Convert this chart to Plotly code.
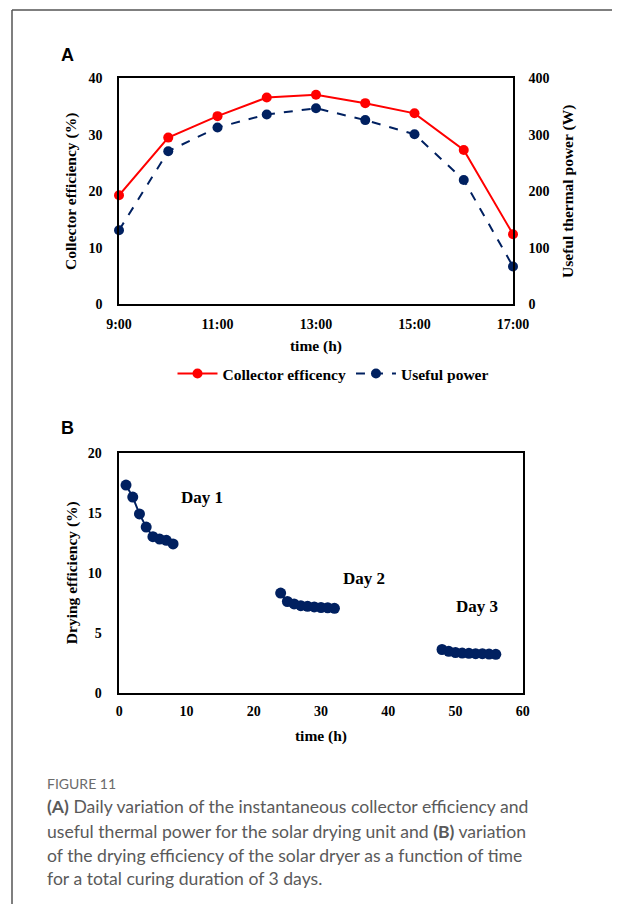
import plotly.graph_objects as go

# ---------------- data ----------------
hours_a = [9, 10, 11, 12, 13, 14, 15, 16, 17]
hour_tickvals = [9, 11, 13, 15, 17]
hour_ticktext = ["9:00", "11:00", "13:00", "15:00", "17:00"]
collector_eff = [19.3, 29.5, 33.3, 36.6, 37.1, 35.6, 33.8, 27.3, 12.4]
useful_power = [131, 271, 313, 336, 347, 326, 301, 220, 67]

day1_t = [1, 2, 3, 4, 5, 6, 7, 8]
day1_eff = [17.3, 16.3, 14.9, 13.8, 13.0, 12.8, 12.7, 12.4]
day2_t = [24, 25, 26, 27, 28, 29, 30, 31, 32]
day2_eff = [8.3, 7.6, 7.4, 7.25, 7.2, 7.15, 7.1, 7.08, 7.03]
day3_t = [48, 49, 50, 51, 52, 53, 54, 55, 56]
day3_eff = [3.6, 3.45, 3.35, 3.3, 3.28, 3.25, 3.25, 3.22, 3.2]
day_labels = ["Day 1", "Day 2", "Day 3"]
day_label_x = [12.3, 36.4, 53.2]
day_label_y = [16.3, 9.55, 7.2]

# page body has an 8px margin: the figure is placed at (8, 8)
OFF = 8
W, H = 604, 896
RED = "#FF0000"
NAVY = "#002060"
SERIF = "Liberation Serif"

def px(x):
    return (x - OFF) / W

def py(y):
    return 1 - (y - OFF) / H

fig = go.Figure()

# Panel A
fig.add_trace(go.Scatter(
    x=hours_a, y=collector_eff, name="<b>Collector efficency</b>",
    mode="lines+markers", line=dict(color=RED, width=2),
    marker=dict(color=RED, size=10), xaxis="x", yaxis="y", cliponaxis=False))
fig.add_trace(go.Scatter(
    x=hours_a, y=useful_power, name="<b>Useful power</b>",
    mode="lines+markers", line=dict(color=NAVY, width=2, dash="dash"),
    marker=dict(color=NAVY, size=10), xaxis="x", yaxis="y2", cliponaxis=False))

# Panel B
x_b = day1_t + [None] + day2_t + [None] + day3_t
y_b = day1_eff + [None] + day2_eff + [None] + day3_eff
fig.add_trace(go.Scatter(
    x=x_b, y=y_b, mode="lines+markers", showlegend=False,
    line=dict(color=NAVY, width=2), marker=dict(color=NAVY, size=11),
    connectgaps=False, xaxis="x2", yaxis="y3", cliponaxis=False))

tickfont = dict(family=SERIF, size=14, color="black")
titlefont = dict(family=SERIF, size=15.5, color="black")
axis_common = dict(showgrid=False, zeroline=False, showline=True,
                   linecolor="black", linewidth=1.5, ticks="",
                   tickfont=tickfont, automargin=False,
                   tickprefix="<b>", ticksuffix="</b>")

fig.update_layout(
    width=W, height=H,
    margin=dict(l=0, r=0, t=0, b=0, autoexpand=False),
    paper_bgcolor="white", plot_bgcolor="white",
    font=dict(family=SERIF, color="black"),
    xaxis=dict(domain=[px(119), px(513)], range=[9, 17],
               tickvals=hour_tickvals, ticktext=["<b>" + t + "</b>" for t in hour_ticktext],
               mirror=True, anchor="y", ticklabelstandoff=6,
               title=dict(text="<b>time (h)</b>", font=titlefont, standoff=9),
               **axis_common),
    yaxis=dict(domain=[py(304.3), py(78.3)], range=[0, 40], dtick=10,
               anchor="x", mirror=True, ticklabelstandoff=12,
               title=dict(text="<b>Collector efficiency (%)</b>", font=titlefont, standoff=8),
               **axis_common),
    yaxis2=dict(overlaying="y", side="right", range=[0, 400], dtick=100,
                anchor="x", ticklabelstandoff=11,
                title=dict(text="<b>Useful thermal power (W)</b>", font=titlefont, standoff=14),
                **axis_common),
    xaxis2=dict(domain=[px(119.3), px(522.7)], range=[0, 60], dtick=10,
                anchor="y3", mirror=True, ticklabelstandoff=5,
                title=dict(text="<b>time (h)</b>", font=titlefont, standoff=12),
                **axis_common),
    yaxis3=dict(domain=[py(692.7), py(452.7)], range=[0, 20], dtick=5,
                anchor="x2", mirror=True, ticklabelstandoff=13,
                title=dict(text="<b>Drying efficiency (%)</b>", font=titlefont, standoff=6),
                **axis_common),
    legend=dict(orientation="h", x=px(333), xanchor="center", y=py(374), yanchor="middle",
                font=dict(family=SERIF, size=15.5, color="black"),
                bgcolor="rgba(0,0,0,0)", itemwidth=40, tracegroupgap=0),
    showlegend=True,
)

annotations = []
for t, x, y in zip(day_labels, day_label_x, day_label_y):
    annotations.append(dict(text="<b>" + t + "</b>", x=x, y=y, xref="x2", yref="y3",
                            xanchor="center", yanchor="middle",
                            showarrow=False, font=dict(family=SERIF, size=17, color="black")))
# panel letters
annotations.append(dict(text="<b>A</b>", x=px(67), y=py(55), xref="paper", yref="paper",
                        xanchor="center", yanchor="middle",
                        showarrow=False, font=dict(family="Liberation Sans", size=18, color="black")))
annotations.append(dict(text="<b>B</b>", x=px(67), y=py(428), xref="paper", yref="paper",
                        xanchor="center", yanchor="middle",
                        showarrow=False, font=dict(family="Liberation Sans", size=18, color="black")))
# caption
CAP = "Lato"
annotations.append(dict(text="FIGURE 11", x=px(45), y=py(783), xref="paper", yref="paper",
                        xanchor="left", yanchor="middle", showarrow=False,
                        font=dict(family=CAP, size=14, color="#6b6b6b")))
cap_lines = [
    "<b>(A)</b> Daily variation of the instantaneous collector efficiency and",
    "useful thermal power for the solar drying unit and <b>(B)</b> variation",
    "of the drying efficiency of the solar dryer as a function of time",
    "for a total curing duration of 3 days.",
]
cap_y = [806, 831, 855, 878]
for t, yy in zip(cap_lines, cap_y):
    annotations.append(dict(text=t, x=px(45), y=py(yy), xref="paper", yref="paper",
                            xanchor="left", yanchor="middle", showarrow=False,
                            font=dict(family=CAP, size=17.6, color="#5a5a5a")))
fig.update_layout(annotations=annotations)

# outer frame lines
fig.update_layout(shapes=[
    dict(type="line", xref="paper", yref="paper", x0=px(12), x1=1, y0=py(10), y1=py(10),
         line=dict(color="#555555", width=1.5)),
    dict(type="line", xref="paper", yref="paper", x0=px(12), x1=px(12), y0=py(10), y1=0,
         line=dict(color="#555555", width=1.5)),
])

fig.write_html("out.html")
